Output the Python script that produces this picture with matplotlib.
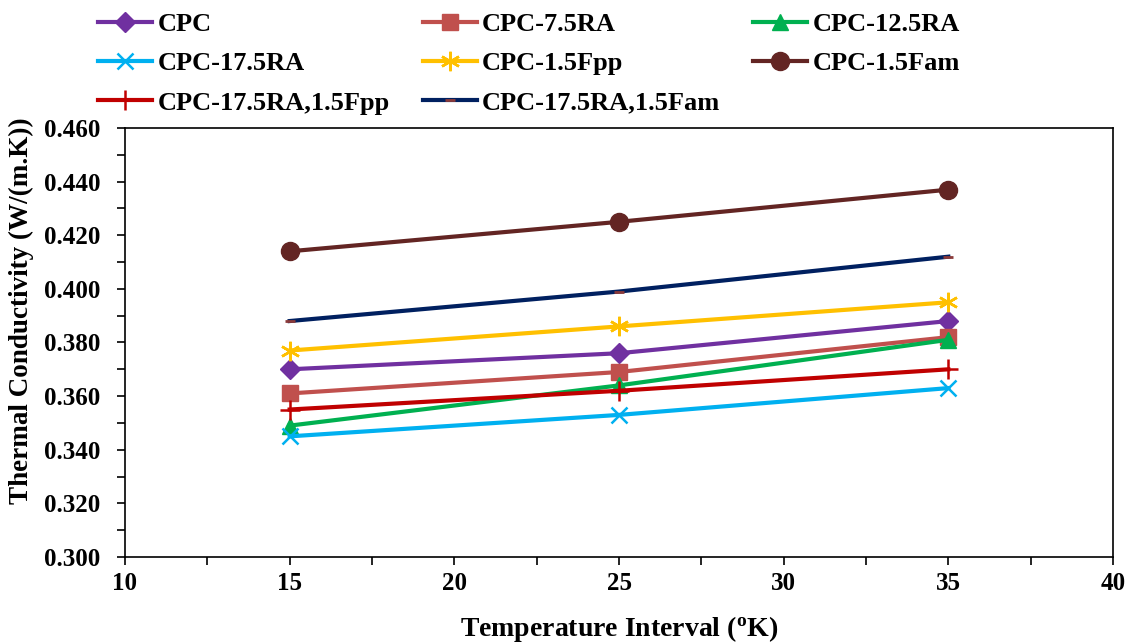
import matplotlib
matplotlib.use("Agg")
import matplotlib.pyplot as plt
from matplotlib.ticker import MultipleLocator, FormatStrFormatter

plt.rcParams['font.family'] = ['Liberation Serif', 'DejaVu Serif']
plt.rcParams['font.weight'] = 'bold'
plt.rcParams['mathtext.fontset'] = 'custom'
plt.rcParams['mathtext.bf'] = 'Liberation Serif:bold'
plt.rcParams['mathtext.rm'] = 'Liberation Serif:bold'

temps = [15, 25, 35]
labels = ["CPC", "CPC-7.5RA", "CPC-12.5RA", "CPC-17.5RA", "CPC-1.5Fpp",
          "CPC-1.5Fam", "CPC-17.5RA,1.5Fpp", "CPC-17.5RA,1.5Fam"]
cpc = [0.370, 0.376, 0.388]
cpc_75ra = [0.361, 0.369, 0.382]
cpc_125ra = [0.349, 0.364, 0.381]
cpc_175ra = [0.345, 0.353, 0.363]
cpc_15fpp = [0.377, 0.386, 0.395]
cpc_15fam = [0.414, 0.425, 0.437]
cpc_175ra_15fpp = [0.355, 0.362, 0.370]
cpc_175ra_15fam = [0.388, 0.399, 0.412]
series = [cpc, cpc_75ra, cpc_125ra, cpc_175ra, cpc_15fpp, cpc_15fam,
          cpc_175ra_15fpp, cpc_175ra_15fam]

colors = ['#7030A0', '#C0504D', '#00B050', '#00B0F0', '#FFC000', '#632523',
          '#C00000', '#002060']
markers = ['D', 's', '^', 'x', (6, 2, 0), 'o', '+', '_']
msizes = [10, 12, 11, 12, 14, 13, 14, 7]

fig = plt.figure(figsize=(11.3, 6.43), dpi=100)
ax = fig.add_axes([0.1106, 0.1337, 0.8744, 0.6673])

handles = []
for vals, lab, c, m, ms in zip(series, labels, colors, markers, msizes):
    kw = {}
    if m == '_':
        kw = dict(markeredgecolor='#8B3A3A', markeredgewidth=2)
    elif m in ('x', '+') or isinstance(m, tuple):
        kw = dict(markeredgewidth=1.8)
    h, = ax.plot(temps, vals, color=c, lw=3, marker=m, markersize=ms, label=lab, **kw)
    handles.append(h)

ax.set_xlim(10, 40)
ax.set_ylim(0.300, 0.460)
ax.xaxis.set_major_locator(MultipleLocator(5))
ax.xaxis.set_minor_locator(MultipleLocator(2.5))
ax.yaxis.set_major_locator(MultipleLocator(0.02))
ax.yaxis.set_minor_locator(MultipleLocator(0.01))
ax.yaxis.set_major_formatter(FormatStrFormatter('%.3f'))
ax.tick_params(which='both', direction='out', width=1.2, labelsize=18, length=5.5)
ax.tick_params(axis='x', pad=5)
ax.tick_params(axis='y', pad=12)
for s in ax.spines.values():
    s.set_linewidth(1.2)
for lbl in ax.get_xticklabels() + ax.get_yticklabels():
    lbl.set_fontweight('bold')

ax.set_xlabel(r"Temperature Interval ($\mathbf{^{o}}$K)", fontsize=20, fontweight='bold', labelpad=14)
ax.set_ylabel("Thermal Conductivity (W/(m.K))", fontsize=19.5, fontweight='bold')
ax.yaxis.set_label_coords(-0.092, 0.573)

order = [0, 3, 6, 1, 4, 7, 2, 5]
leg = fig.legend(handles=[handles[i] for i in order], loc='upper left',
                 bbox_to_anchor=(0.0775, 0.997),
                 ncol=3, frameon=False, handlelength=2.05,
                 handletextpad=0.2, columnspacing=1.25, labelspacing=0.6,
                 borderaxespad=0, prop={'weight': 'bold', 'size': 19})

fig.savefig("out.png", dpi=100)
